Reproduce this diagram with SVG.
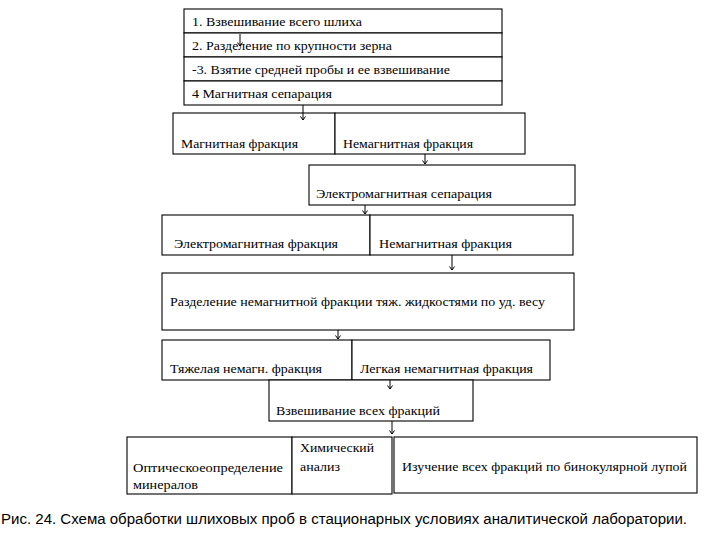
<svg xmlns="http://www.w3.org/2000/svg" width="720" height="540" viewBox="0 0 720 540">
<defs>
<style>
.b{fill:#fff;stroke:#000;stroke-width:1.1}
.t{font-size:13px;fill:#000}
.c{font-family:"Liberation Sans",Arial,sans-serif;font-size:14px;fill:#000}
.a{stroke:#000;stroke-width:1;fill:none}
</style>
<marker id="ah" markerUnits="userSpaceOnUse" markerWidth="8" markerHeight="8" refX="4" refY="7" orient="0" viewBox="0 0 8 8">
<path d="M1.5,3.5 L4,7 L6.5,3.5" fill="none" stroke="#000" stroke-width="1"/>
</marker>
</defs>
<rect width="720" height="540" fill="#fff"/>
<g font-family="Liberation Serif, Times New Roman, serif">
<g id="row1"><rect class="b" x="184" y="9" width="318" height="24"/><text class="t" x="192" y="26" textLength="170" lengthAdjust="spacingAndGlyphs">1. Взвешивание всего шлиха</text></g>
<g id="row2"><rect class="b" x="184" y="33" width="318" height="24"/><text class="t" x="192" y="50" textLength="200" lengthAdjust="spacingAndGlyphs">2. Разделение по крупности зерна</text></g>
<g id="row3"><rect class="b" x="184" y="57" width="318" height="24"/><text class="t" x="192" y="74" textLength="258" lengthAdjust="spacingAndGlyphs">-3. Взятие средней пробы и ее взвешивание</text></g>
<g id="row4"><rect class="b" x="184" y="81" width="318" height="24"/><text class="t" x="192" y="98" textLength="140" lengthAdjust="spacingAndGlyphs">4 Магнитная сепарация</text></g>
<g id="mag"><rect class="b" x="173" y="113" width="162" height="41"/><text class="t" x="181" y="148" textLength="117" lengthAdjust="spacingAndGlyphs">Магнитная фракция</text></g>
<g id="nemag1"><rect class="b" x="335" y="113" width="190" height="41"/><text class="t" x="343" y="148" textLength="130" lengthAdjust="spacingAndGlyphs">Немагнитная фракция</text></g>
<g id="emsep"><rect class="b" x="309" y="165" width="266" height="40"/><text class="t" x="316" y="198" textLength="176" lengthAdjust="spacingAndGlyphs">Электромагнитная сепарация</text></g>
<g id="emfr"><rect class="b" x="162" y="215" width="208" height="40"/><text class="t" x="174" y="248" textLength="164" lengthAdjust="spacingAndGlyphs">Электромагнитная фракция</text></g>
<g id="nemag2"><rect class="b" x="370" y="215" width="203" height="40"/><text class="t" x="379" y="248" textLength="133" lengthAdjust="spacingAndGlyphs">Немагнитная фракция</text></g>
<g id="razd"><rect class="b" x="162" y="273" width="412" height="57"/><text class="t" x="170" y="306" textLength="375" lengthAdjust="spacingAndGlyphs">Разделение немагнитной фракции тяж. жидкостями по уд. весу</text></g>
<g id="heavy"><rect class="b" x="162" y="340" width="190" height="40"/><text class="t" x="170" y="373" textLength="152" lengthAdjust="spacingAndGlyphs">Тяжелая немагн. фракция</text></g>
<g id="light"><rect class="b" x="352" y="340" width="198" height="40"/><text class="t" x="360" y="373" textLength="173" lengthAdjust="spacingAndGlyphs">Легкая немагнитная фракция</text></g>
<g id="weigh"><rect class="b" x="269" y="380" width="204" height="41" stroke-width="1.4"/><text class="t" x="276" y="415" textLength="164" lengthAdjust="spacingAndGlyphs">Взвешивание всех фракций</text></g>
<g id="optic"><rect class="b" x="127" y="437" width="165" height="57"/><text class="t" x="133" y="472" textLength="150" lengthAdjust="spacingAndGlyphs">Оптическоеопределение</text><text class="t" x="133" y="489" textLength="65" lengthAdjust="spacingAndGlyphs">минералов</text></g>
<g id="chem"><rect class="b" x="292" y="437" width="100" height="57"/><text class="t" x="300" y="452" textLength="74" lengthAdjust="spacingAndGlyphs">Химический</text><text class="t" x="300" y="471" textLength="40" lengthAdjust="spacingAndGlyphs">анализ</text></g>
<g id="bino"><rect class="b" x="394" y="437" width="303" height="56"/><text class="t" x="402" y="471" textLength="285" lengthAdjust="spacingAndGlyphs">Изучение всех фракций по бинокулярной лупой</text></g>
</g>
<g id="connectors">
<line class="a" x1="240" y1="34" x2="240" y2="46" marker-end="url(#ah)"/>
<line class="a" x1="303" y1="105" x2="303" y2="120" marker-end="url(#ah)"/>
<line class="a" x1="425" y1="154" x2="425" y2="164" marker-end="url(#ah)"/>
<line class="a" x1="365" y1="205" x2="365" y2="214" marker-end="url(#ah)"/>
<line class="a" x1="452" y1="255" x2="452" y2="270" marker-end="url(#ah)"/>
<line class="a" x1="338" y1="330" x2="338" y2="339" marker-end="url(#ah)"/>
<line class="a" x1="390" y1="380" x2="390" y2="389" marker-end="url(#ah)"/>
<line class="a" x1="392" y1="421" x2="392" y2="434" marker-end="url(#ah)"/>
</g>
<text class="c" x="1" y="524" textLength="686" lengthAdjust="spacingAndGlyphs">Рис. 24. Схема обработки шлиховых проб в стационарных условиях аналитической лаборатории.</text>
</svg>
